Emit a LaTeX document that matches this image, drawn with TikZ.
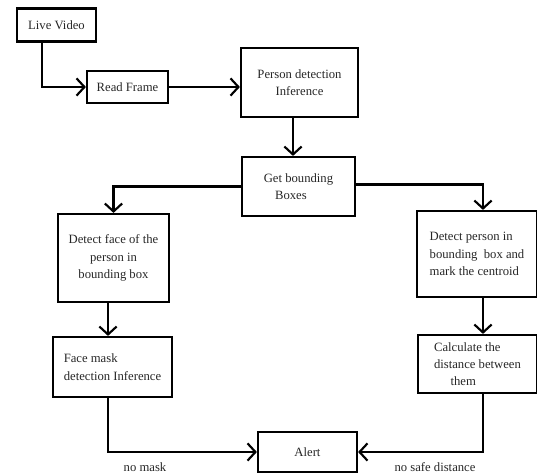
\documentclass[tikz,border=0pt]{standalone}
\usepackage{fontspec}
\setmainfont{Liberation Serif}
\usetikzlibrary{arrows.meta,calc}
\begin{document}
\begin{tikzpicture}[x=0.75pt,y=-0.75pt,
  box/.style={draw=black, line width=1.6pt, rectangle, inner sep=0pt, font=\fontsize{9.5}{13}\selectfont, text=black!85},
  lbl/.style={font=\fontsize{9.5}{13}\selectfont, text=black!85, inner sep=0pt},
  arr/.style={line width=1.6pt, -{Straight Barb[length=6pt,width=13pt]}},
  ln/.style={line width=1.6pt}]
\useasboundingbox (0,0) rectangle (537,475);
\node[box, minimum width=79*0.75pt, minimum height=33*0.75pt] (lv) at (56.5,25) {Live Video};
\node[box, minimum width=81*0.75pt, minimum height=32*0.75pt] (rf) at (127.5,87) {Read Frame};
\node[box, align=center, minimum width=117*0.75pt, minimum height=69*0.75pt] (pd) at (299.5,82.5) {Person detection\\Inference};
\node[box, align=center, minimum width=113*0.75pt, minimum height=59*0.75pt] (gb) at (298.5,186.5) {Get bounding\\\hspace*{-1.2em}Boxes};
\node[box, align=center, minimum width=111*0.75pt, minimum height=88*0.75pt] (df) at (113.5,258) {Detect face of the\\person in\\bounding box};
\node[box, align=left, minimum width=119*0.75pt, minimum height=60*0.75pt] (fm) at (112.5,367) {Face mask\\detection Inference};
\node[box, align=left, minimum width=120*0.75pt, minimum height=86*0.75pt] (dp) at (477,254) {Detect person in\\bounding\ \ box and\\mark the centroid};
\node[box, align=left, minimum width=119*0.75pt, minimum height=58*0.75pt] (cd) at (477.5,364) {Calculate the\\distance between\\\hspace*{1.3em}them};
\node[box, minimum width=99*0.75pt, minimum height=40*0.75pt] (al) at (307.5,452) {Alert};
\coordinate (xa) at (42,0);
\coordinate (xb) at (293,0);
\coordinate (xc) at (108,0);
\coordinate (xd) at (483,0);
\draw[arr] (lv.south -| xa) |- (rf.west);
\draw[arr] (rf.east) -- (rf.east -| pd.west);
\draw[arr] (pd.south -| xb) -- (gb.north -| xb);
\draw[arr] (gb.west) -| (df.north);
\draw[arr] ([yshift=1.5pt]gb.east) -| (dp.north -| xd);
\draw[arr] (df.south -| xc) -- (fm.north -| xc);
\draw[arr] (dp.south -| xd) -- (cd.north -| xd);
\draw[arr] (fm.south -| xc) |- (al.west);
\draw[arr] (cd.south -| xd) |- (al.east);
\node[lbl] (nm) at (145,467) {no mask};
\node[lbl] (ns) at (435,467) {no safe distance};
\end{tikzpicture}
\end{document}
